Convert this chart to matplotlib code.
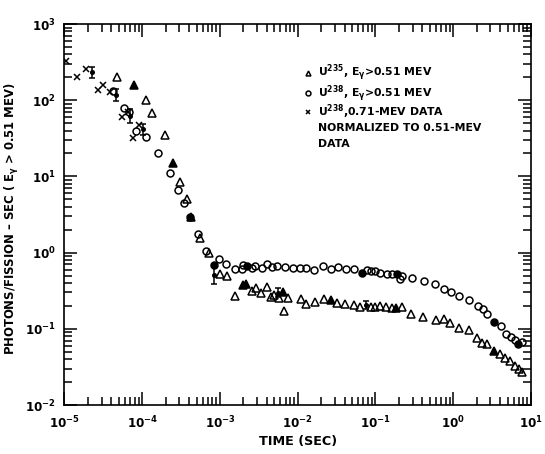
import matplotlib
matplotlib.use('Agg')
import matplotlib.pyplot as plt
import numpy as np
from matplotlib.ticker import LogLocator, FuncFormatter, NullFormatter

plt.rcParams['font.family'] = ['DejaVu Sans']
plt.rcParams['font.weight'] = 'bold'
plt.rcParams['mathtext.fontset'] = 'custom'
plt.rcParams['mathtext.rm'] = 'DejaVu Sans:bold'
plt.rcParams['mathtext.it'] = 'DejaVu Sans:bold'
plt.rcParams['mathtext.default'] = 'rm'

# U-235, E_gamma > 0.51 MeV (open triangles)
u235_t = [4.77e-5, 1.12e-4, 1.35e-4, 1.98e-4, 3.10e-4, 3.82e-4, 5.58e-4, 7.15e-4,
          1.01e-3, 1.23e-3, 1.56e-3, 2.56e-3, 2.90e-3, 3.34e-3, 3.99e-3, 4.49e-3,
          4.95e-3, 5.78e-3, 6.71e-3, 7.42e-3, 1.09e-2, 1.28e-2, 1.67e-2, 2.17e-2,
          3.17e-2, 4.06e-2, 5.34e-2, 6.30e-2, 8.67e-2, 1.00e-1, 1.14e-1, 1.36e-1,
          1.61e-1, 2.17e-1, 2.86e-1, 4.12e-1, 5.94e-1, 7.66e-1, 9.20e-1, 1.19,
          1.59, 2.00, 2.36, 2.71, 3.99, 4.65, 5.36, 6.22, 7.0, 7.66]
u235_v = [203, 100.6, 68.6, 34.9, 8.49, 4.98, 1.54, 0.997,
          0.524, 0.497, 0.272, 0.316, 0.346, 0.292, 0.357, 0.259,
          0.278, 0.256, 0.171, 0.251, 0.244, 0.210, 0.227, 0.244,
          0.216, 0.210, 0.205, 0.195, 0.195, 0.193, 0.200, 0.195,
          0.190, 0.195, 0.155, 0.145, 0.1325, 0.133, 0.119, 0.1016,
          0.0973, 0.0764, 0.0646, 0.0628, 0.0473, 0.0410, 0.0381, 0.0325, 0.0297, 0.0271]
# overlapping / blotted U-235 points (drawn solid)
u235_solid_t = [7.83e-5, 2.49e-4, 4.24e-4, 1.98e-3, 2.16e-3, 6.51e-3, 2.65e-2, 1.84e-1, 3.36]
u235_solid_v = [158, 15.1, 2.96, 0.376, 0.393, 0.307, 0.239, 0.185, 0.0514]
# U-235 points with error bars (relative error)
u235_err_t = [8.37e-4, 5.62e-3, 7.54e-2]
u235_err_v = [0.508, 0.298, 0.205]
u235_err_f = [0.30, 0.15, 0.12]

# U-238, E_gamma > 0.51 MeV (open circles)
u238_t = [4.21e-5, 5.82e-5, 6.75e-5, 8.43e-5, 1.12e-4, 1.61e-4, 2.28e-4, 2.88e-4,
          3.44e-4, 5.26e-4, 6.61e-4, 9.80e-4, 1.19e-3, 1.56e-3, 1.90e-3, 2.0e-3,
          2.56e-3, 2.82e-3, 3.43e-3, 4.06e-3, 4.70e-3, 5.45e-3, 6.85e-3, 8.77e-3,
          1.07e-2, 1.28e-2, 1.63e-2, 2.09e-2, 2.68e-2, 3.32e-2, 4.17e-2, 5.34e-2,
          7.70e-2, 8.75e-2, 9.85e-2, 1.14e-1, 1.39e-1, 1.62e-1, 2.07e-1, 2.17e-1,
          2.92e-1, 4.20e-1, 5.82e-1, 7.66e-1, 9.26e-1, 1.18, 1.61, 2.06,
          2.43, 2.74, 4.11, 4.76, 5.48, 6.22, 7.59]
u238_v = [134, 80.2, 70.6, 39.4, 32.9, 20.3, 11.0, 6.63,
          4.52, 1.74, 1.06, 0.824, 0.709, 0.604, 0.604, 0.688,
          0.622, 0.667, 0.634, 0.709, 0.638, 0.667, 0.653, 0.622,
          0.622, 0.634, 0.592, 0.667, 0.604, 0.653, 0.610, 0.610,
          0.592, 0.576, 0.572, 0.547, 0.520, 0.520, 0.447, 0.493,
          0.469, 0.428, 0.384, 0.333, 0.302, 0.272, 0.239, 0.199,
          0.182, 0.156, 0.110, 0.0848, 0.0788, 0.0713, 0.0667]
u238_solid_t = [4.11e-4, 8.37e-4, 2.21e-3, 6.63e-2, 1.91e-1, 3.34, 6.85]
u238_solid_v = [2.96, 0.688, 0.673, 0.539, 0.524, 0.124, 0.0627]

# U-238, 0.71-MeV data normalized to 0.51-MeV data (crosses)
x71_t = [1.06e-5, 1.47e-5, 1.89e-5, 2.70e-5, 3.15e-5, 3.85e-5, 5.44e-5, 6.56e-5, 7.67e-5, 9.16e-5]
x71_v = [324, 203, 257, 137, 160, 129, 59.6, 70.6, 31.6, 48.0]
x71_err_t = [2.24e-5, 4.59e-5, 6.95e-5, 1.01e-4]
x71_err_v = [234, 117, 62.1, 41.3]
x71_err_f = [0.18, 0.20, 0.22, 0.18]

x_decades = [-5, -4, -3, -2, -1, 0, 1]
y_decades = [-2, -1, 0, 1, 2, 3]

legend_lines = ['U$^{235}$, E$_{γ}$>0.51 MEV',
                'U$^{238}$, E$_{γ}$>0.51 MEV',
                'U$^{238}$,0.71-MEV DATA',
                'NORMALIZED TO 0.51-MEV',
                'DATA']


def errbars(ax, t, v, f):
    v = np.array(v)
    f = np.array(f)
    lo = v - v / (1 + f)
    hi = v * f
    ax.errorbar(t, v, yerr=[lo, hi], fmt='o', ms=2.6, color='black',
                ecolor='black', elinewidth=1.1, capsize=2, capthick=1.1)


def pow10(val, pos):
    e = int(round(np.log10(val)))
    return '10$^{%d}$' % e


fig = plt.figure(figsize=(5.45, 4.54), dpi=100)
ax = fig.add_axes([0.1183, 0.1079, 0.8560, 0.8392])

mk = dict(linestyle='none', color='black', mew=1.1)
ax.plot(u235_t, u235_v, marker='^', ms=5.2, mfc='none', **mk)
ax.plot(u235_solid_t, u235_solid_v, marker='^', ms=5.2, mfc='black', **mk)
ax.plot(u238_t, u238_v, marker='o', ms=5.0, mfc='none', **mk)
ax.plot(u238_solid_t, u238_solid_v, marker='o', ms=5.0, mfc='black', **mk)
ax.plot(x71_t, x71_v, marker='x', ms=4.2, **mk)
errbars(ax, u235_err_t, u235_err_v, u235_err_f)
errbars(ax, x71_err_t, x71_err_v, x71_err_f)

ax.set_xscale('log')
ax.set_yscale('log')
ax.set_xlim(1e-5, 1e1)
ax.set_ylim(1e-2, 1e3)

ax.set_xticks([10.0 ** e for e in x_decades])
ax.set_yticks([10.0 ** e for e in y_decades])
for axis in (ax.xaxis, ax.yaxis):
    axis.set_minor_locator(LogLocator(base=10, subs=np.arange(2, 10), numticks=20))
    axis.set_major_formatter(FuncFormatter(pow10))
    axis.set_minor_formatter(NullFormatter())

ax.tick_params(which='both', direction='in', top=True, right=True, width=1.1, color='black')
ax.tick_params(which='major', length=9.5, labelsize=8.6)
ax.tick_params(which='minor', length=5.8)
ax.tick_params(axis='x', which='major', pad=7)
ax.tick_params(axis='y', which='major', pad=6)
for s in ax.spines.values():
    s.set_linewidth(1.2)

ax.set_xlabel('TIME (SEC)', fontsize=9.2, fontweight='bold')
ax.xaxis.set_label_coords(0.5, -0.078)
ax.set_ylabel('PHOTONS/FISSION – SEC ( E$_{γ}$ > 0.51 MEV)', fontsize=8.4, fontweight='bold')
ax.yaxis.set_label_coords(-0.093, 0.49)

# hand-lettered key
key_markers = ['^', 'o', 'x']
key_x_mark = 0.522
key_x_text = 0.543
key_rows = [0.872, 0.818, 0.770, 0.727, 0.684]
for i, m in enumerate(key_markers):
    ax.plot([key_x_mark], [key_rows[i]], transform=ax.transAxes, marker=m,
            ms=3.5, mfc='none' if m != 'x' else 'black', clip_on=False, **mk)
for row, txt in zip(key_rows, legend_lines):
    ax.text(key_x_text, row, txt, transform=ax.transAxes, fontsize=7.8,
            fontweight='bold', va='center', ha='left')

fig.savefig('out.png', dpi=100)
